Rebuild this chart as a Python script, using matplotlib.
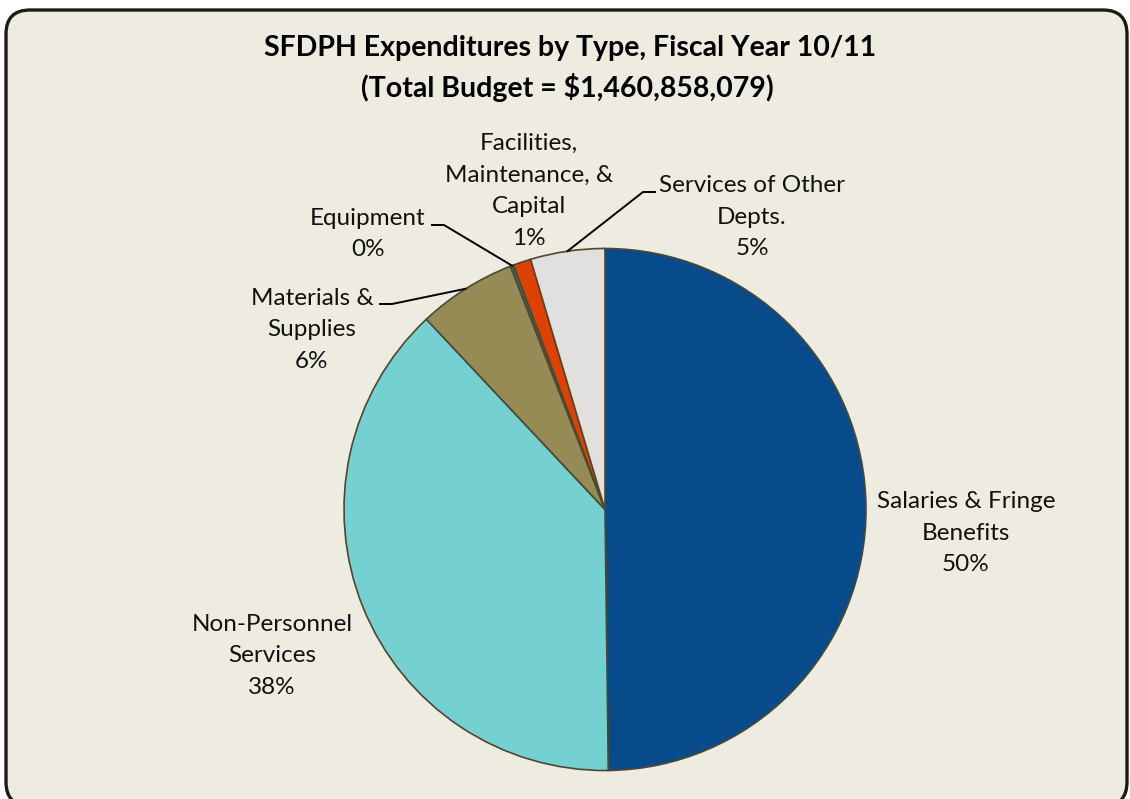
import numpy as np
import matplotlib
matplotlib.use('Agg')
import matplotlib.pyplot as plt
from matplotlib.patches import FancyBboxPatch


LABELS = [
    'Salaries & Fringe\nBenefits',
    'Non-Personnel\nServices',
    'Materials &\nSupplies',
    'Equipment',
    'Facilities,\nMaintenance, &\nCapital',
    'Services of Other\nDepts.',
]
SHARES = [49.8, 38.2, 6.1, 0.2, 1.1, 4.6]
COLORS = ['#074b8b', '#74d0d1', '#968a55', '#2e6b6b', '#e04000', '#e1e0df']

# label anchor (pixel x, pixel y from top) and whether a leader line is drawn
LABEL_POS = [
    (966, 533, False),
    (272, 656, False),
    (312, 330, True),
    (368, 234, True),
    (529, 191, False),
    (752, 217, True),
]
LEADER_START = {2: (380, 304), 3: (432, 225), 5: (655, 192)}

W, H = 1130, 799
BG = '#eeebe0'
FONT = 'Lato'


def main():
    fig = plt.figure(figsize=(W / 100, H / 100), dpi=100)
    fig.patch.set_facecolor('white')
    ax = fig.add_axes([0, 0, 1, 1])

    frame = FancyBboxPatch((6, H - 806), 1121, 796,
                           boxstyle='round,pad=0,rounding_size=24',
                           facecolor=BG, edgecolor='#1d1c12', linewidth=2.4,
                           zorder=0)
    ax.add_patch(frame)

    cx, cy, r = 605, H - 509.5, 261
    wedges, _ = ax.pie(SHARES, colors=COLORS, startangle=90,
                       counterclock=False, radius=r, center=(cx, cy),
                       wedgeprops=dict(edgecolor='#4d4832', linewidth=1.2),
                       frame=True)
    ax.set_xlim(0, W)
    ax.set_ylim(0, H)
    ax.set_aspect('equal')
    ax.axis('off')

    total = sum(SHARES)
    for i, (label, share) in enumerate(zip(LABELS, SHARES)):
        px, py, leader = LABEL_POS[i]
        pct = round(share / total * 100)
        ax.text(px, H - py, f'{label}\n{pct}%', ha='center', va='center',
                fontsize=17.5, family=FONT, color='#111111',
                linespacing=1.62, zorder=5)
        if leader:
            w = wedges[i]
            mid = np.deg2rad((w.theta1 + w.theta2) / 2)
            ex, ey = cx + r * np.cos(mid), cy + r * np.sin(mid)
            sx, sy = LEADER_START[i]
            step = 12 if sx < cx else -12
            ax.plot([sx, sx + step, ex], [H - sy, H - sy, ey],
                    color='black', linewidth=1.4, zorder=4)

    ax.text(570, H - 48, 'SFDPH Expenditures by Type, Fiscal Year 10/11',
            ha='center', va='center', fontsize=20.5, fontweight='bold',
            family=FONT, color='black')
    ax.text(567, H - 87, '(Total Budget = $1,460,858,079)',
            ha='center', va='center', fontsize=20.5, fontweight='bold',
            family=FONT, color='black')

    fig.savefig('out.png', dpi=100, facecolor=fig.get_facecolor())


if __name__ == '__main__':
    main()
